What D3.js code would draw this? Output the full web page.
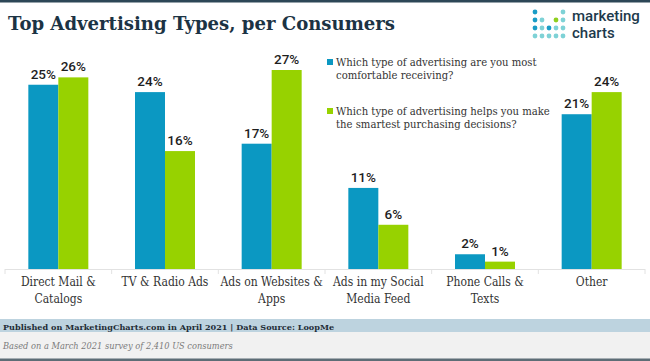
<!DOCTYPE html>
<html>
<head>
<meta charset="utf-8">
<script src="https://cdn.jsdelivr.net/npm/d3@7"></script>
<style>
  body { margin: 0; background: #fff; }
  svg { display: block; }
  .slab { font-family: "DejaVu Serif", serif; }
  .cond { font-family: "DejaVu Serif Condensed", "DejaVu Serif", serif; font-stretch: condensed; }
  .sans { font-family: Roboto, "Noto Sans", sans-serif; }
</style>
</head>
<body>
<svg width="650" height="361"></svg>
<script>
const categories = [
  ["Direct Mail &", "Catalogs"],
  ["TV & Radio Ads"],
  ["Ads on Websites &", "Apps"],
  ["Ads in my Social", "Media Feed"],
  ["Phone Calls &", "Texts"],
  ["Other"]
]
const comfortable = [25, 24, 17, 11, 2, 21]
const smartest = [26, 16, 27, 6, 1, 24]
const seriesNames = [
  ["Which type of advertising are you most", "comfortable receiving?"],
  ["Which type of advertising helps you make", "the smartest purchasing decisions?"]
]
const colors = ["#0b98c2", "#97d200"]

const svg = d3.select("svg")

// top rule + title
svg.append("rect").attr("x", 0).attr("y", 0).attr("width", 650).attr("height", 2.5).attr("fill", "#2c4757")

const title = svg.append("text")
  .attr("class", "slab")
  .attr("x", 8).attr("y", 30)
  .attr("fill", "#1c3344")
  .style("font-weight", "bold")
  .style("font-size", "22px")
  .text("Top Advertising Types, per Consumers")
fitWidth(title, 387, 22)

// logo
const dotRows = [
  [0, -1, -1, -1, 2],
  [0, 2, -1, 1, 2],
  [0, 2, 0, 2, 2],
  [2, 2, 2, 2, 2]
]
const dotColors = ["#1a9cc6", "#8fcf1e", "#7ed2d6"]
dotRows.forEach((row, r) => {
  row.forEach((c, i) => {
    if (c < 0) return
    svg.append("circle")
      .attr("cx", 535 + i * 7).attr("cy", 12 + r * 8)
      .attr("r", 2.4).attr("fill", dotColors[c])
  })
})
svg.append("text").attr("class", "sans").attr("x", 572).attr("y", 21)
  .attr("fill", "#1d3a4c").style("font-size", "15px").style("font-weight", 500).text("marketing")
svg.append("text").attr("class", "sans").attr("x", 572).attr("y", 38)
  .attr("fill", "#1d3a4c").style("font-size", "15px").style("font-weight", 500).text("charts")

// scales
const x = d3.scaleBand().domain(d3.range(categories.length)).range([5, 645]).padding(0)
const y = d3.scaleLinear().domain([0, 27]).range([269, 70])
const barW = 30

// axis line and separators
svg.append("line").attr("x1", 5).attr("x2", 645).attr("y1", 269.5).attr("y2", 269.5)
  .attr("stroke", "#e2e2e2")
svg.selectAll("line.sep")
  .data(d3.range(categories.length + 1))
  .enter()
  .append("line")
  .attr("class", "sep")
  .attr("x1", d => 5 + d * x.bandwidth()).attr("x2", d => 5 + d * x.bandwidth())
  .attr("y1", 269).attr("y2", 274)
  .attr("stroke", "#e2e2e2")

const series = [comfortable, smartest]
series.forEach((vals, s) => {
  const g = svg.append("g")
  g.selectAll("rect")
    .data(vals)
    .enter()
    .append("rect")
    .attr("x", (d, i) => x(i) + x.bandwidth() / 2 - barW + s * barW)
    .attr("y", d => y(d))
    .attr("width", barW)
    .attr("height", d => y(0) - y(d))
    .attr("fill", colors[s])
  g.selectAll("text")
    .data(vals)
    .enter()
    .append("text")
    .attr("class", "sans")
    .attr("x", (d, i) => x(i) + x.bandwidth() / 2 - barW / 2 + s * barW)
    .attr("y", d => y(d) - 6)
    .attr("text-anchor", "middle")
    .attr("fill", "#1e1e1e")
    .style("font-size", "13.5px")
    .style("font-weight", 500)
    .text(d => d + "%")
})

// category labels
categories.forEach((lines, i) => {
  const t = svg.append("text")
    .attr("class", "cond")
    .attr("text-anchor", "middle")
    .attr("fill", "#333")
    .style("font-size", "12px")
  lines.forEach((l, k) => {
    t.append("tspan").attr("x", x(i) + x.bandwidth() / 2).attr("y", 286 + k * 16.5).text(l)
  })
})

// legend
seriesNames.forEach((lines, s) => {
  const top = 59 + s * 49
  svg.append("rect").attr("x", 327).attr("y", top).attr("width", 6).attr("height", 6).attr("fill", colors[s])
  const t = svg.append("text")
    .attr("class", "cond")
    .attr("fill", "#333")
    .style("font-size", "11.2px")
  lines.forEach((l, k) => {
    t.append("tspan").attr("x", 336).attr("y", top + 6.5 + k * 13.5).text(l)
  })
})

// footer
svg.append("rect").attr("x", 0).attr("y", 319).attr("width", 650).attr("height", 13).attr("fill", "#bdd3df")
svg.append("rect").attr("x", 0).attr("y", 332).attr("width", 650).attr("height", 27).attr("fill", "#f1f1f1")
svg.append("rect").attr("x", 0).attr("y", 358.5).attr("width", 650).attr("height", 2.5).attr("fill", "#5d6d76")
const pub = svg.append("text").attr("class", "slab").attr("x", 3).attr("y", 329.5)
  .attr("fill", "#1f2d36").style("font-size", "10px").style("font-weight", "bold")
  .text("Published on MarketingCharts.com in April 2021 | Data Source: LoopMe")
fitWidth(pub, 332, 10)
const note = svg.append("text").attr("class", "slab").attr("x", 3).attr("y", 348.5)
  .attr("fill", "#7a7a7a").style("font-size", "9.5px").style("font-style", "italic")
  .text("Based on a March 2021 survey of 2,410 US consumers")
fitWidth(note, 230, 9.5)

function fitWidth(sel, target, size) {
  const w = sel.node().getComputedTextLength()
  if (w > 0) sel.style("font-size", (size * target / w).toFixed(2) + "px")
}
</script>
</body>
</html>
